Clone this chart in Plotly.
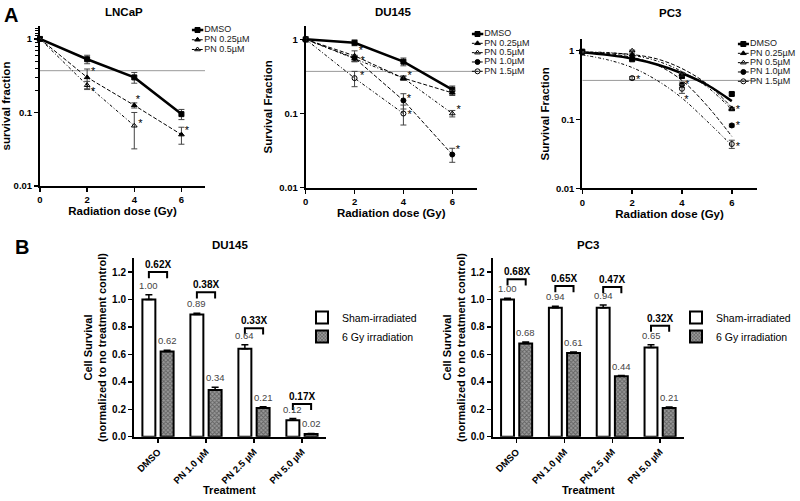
import plotly.graph_objects as go

FONT = "Liberation Sans, Arial, Helvetica, sans-serif"
W, H = 800, 501

# ------------------------------------------------------------------ data
dose = [0, 2, 4, 6]
d0_level = 0.37                      # 37 % survival reference line

# --- LNCaP clonogenic survival
lncap_names = ["DMSO", "PN 0.25µM", "PN 0.5µM"]
lncap_dmso = [1.0, 0.53, 0.30, 0.095]
lncap_dmso_err = [0.0, 0.07, 0.05, 0.015]
lncap_pn025 = [1.0, 0.30, 0.125, 0.05]
lncap_pn025_err = [0.0, 0.09, 0.01, 0.013]
lncap_pn05 = [1.0, 0.235, 0.066]
lncap_pn05_err = [0.0, 0.03, 0.034]
lncap_star_x = [2.25, 2.25, 4.15, 4.26, 6.23]
lncap_star_y = [0.35, 0.19, 0.148, 0.07, 0.055]

# --- DU145 clonogenic survival
du_names = ["DMSO", "PN 0.25µM", "PN 0.5µM", "PN 1.0µM", "PN 1.5µM"]
du_dmso = [1.0, 0.90, 0.50, 0.21]
du_dmso_err = [0.08, 0.08, 0.06, 0.025]
du_pn025 = [1.0, 0.60, 0.30, 0.19]
du_pn025_err = [0.05, 0.10, 0.02, 0.015]
du_pn05 = [1.0, 0.55, 0.30, 0.10]
du_pn05_err = [0.05, 0.05, 0.02, 0.01]
du_pn10 = [1.0, 0.56, 0.15, 0.028]
du_pn10_err = [0.05, 0.05, 0.035, 0.006]
du_pn15 = [1.0, 0.30, 0.10]
du_pn15_err = [0.05, 0.07, 0.03]
du_star_x = [2.26, 2.33, 2.31, 4.26, 4.22, 4.26, 6.26, 6.23]
du_star_y = [0.70, 0.50, 0.32, 0.32, 0.155, 0.095, 0.11, 0.032]

# --- PC3 clonogenic survival (points + fitted curves)
pc_names = ["DMSO", "PN 0.25µM", "PN 0.5µM", "PN 1.0µM", "PN 1.5µM"]
pc_dmso = [0.97, 0.75, 0.43, 0.235]
pc_dmso_err = [0.02, 0.03, 0.03, 0.01]
pc_pn025 = [0.95, 0.88, 0.46, 0.145]
pc_pn025_err = [0.02, 0.02, 0.02, 0.005]
pc_pn05 = [0.96, 1.0, 0.45, 0.14]
pc_pn05_err = [0.02, 0.02, 0.02, 0.005]
pc_pn10 = [0.95, 0.78, 0.32, 0.082]
pc_pn10_err = [0.02, 0.02, 0.03, 0.004]
pc_pn15 = [0.95, 0.40, 0.28, 0.044]
pc_pn15_err = [0.02, 0.02, 0.04, 0.006]
fit_dose = [0, 1, 2, 3, 4, 5, 6]
pc_fit_dmso = [0.95, 0.87, 0.77, 0.63, 0.47, 0.32, 0.185]
pc_fit_pn025 = [0.93, 0.93, 0.88, 0.76, 0.55, 0.33, 0.15]
pc_fit_pn05 = [0.96, 0.94, 0.86, 0.71, 0.50, 0.30, 0.14]
pc_fit_pn10 = [0.95, 0.91, 0.80, 0.62, 0.37, 0.16, 0.057]
pc_fit_pn15 = [0.87, 0.74, 0.57, 0.37, 0.205, 0.095, 0.042]
pc_star_x = [2.24, 4.21, 4.18, 6.25, 6.25, 6.25]
pc_star_y = [0.375, 0.317, 0.19, 0.137, 0.079, 0.04]

# --- Panel B: cell survival bars
treatments = ["DMSO", "PN 1.0 µM", "PN 2.5 µM", "PN 5.0 µM"]
bar_names = ["Sham-irradiated", "6 Gy irradiation"]
du_sham = [1.00, 0.89, 0.64, 0.12]
du_sham_err = [0.035, 0.01, 0.03, 0.012]
du_irr = [0.62, 0.34, 0.21, 0.02]
du_irr_err = [0.01, 0.02, 0.008, 0.004]
du_fold = ["0.62X", "0.38X", "0.33X", "0.17X"]
du_fold_y = [1.20, 1.052, 0.79, 0.239]
pc_sham = [1.00, 0.94, 0.94, 0.65]
pc_sham_err = [0.008, 0.01, 0.02, 0.02]
pc_irr = [0.68, 0.61, 0.44, 0.21]
pc_irr_err = [0.01, 0.008, 0.006, 0.006]
pc_fold = ["0.68X", "0.65X", "0.47X", "0.32X"]
pc_fold_y = [1.147, 1.098, 1.09, 0.809]

# ------------------------------------------------------------------ styles
STYLE = {
    "DMSO":      dict(symbol="square", dash="solid", width=2.5, size=5),
    "PN 0.25µM": dict(symbol="triangle-up", dash="4px,2px", width=1, size=5),
    "PN 0.5µM":  dict(symbol="triangle-up-open", dash="3px,2px,1px,2px", width=1, size=5),
    "PN 1.0µM":  dict(symbol="circle", dash="4px,2px", width=1, size=5),
    "PN 1.5µM":  dict(symbol="circle-open", dash="3px,2px,1px,2px", width=1, size=5),
}


def fx(p):
    return p / W


def fy(p):
    return 1 - p / H


fig = go.Figure()


def add_series(x, y, err, name, xa, ya, mode="lines+markers"):
    st = STYLE[name]
    fig.add_trace(go.Scatter(
        x=x[:len(y)], y=y, mode=mode, name=name, showlegend=False,
        xaxis=xa, yaxis=ya, cliponaxis=False,
        line=dict(color="black", width=st["width"], dash=st["dash"]),
        marker=dict(symbol=st["symbol"], size=st["size"], color="black",
                    line=dict(color="black", width=1)),
        error_y=dict(type="data", array=err, color="#444", thickness=1, width=3)))


def add_fit(x, y, name, xa, ya):
    st = STYLE[name]
    fig.add_trace(go.Scatter(
        x=x, y=y, mode="lines", showlegend=False, xaxis=xa, yaxis=ya,
        line=dict(color="black", width=st["width"], dash=st["dash"], shape="spline")))


def add_refline(xa, ya):
    fig.add_trace(go.Scatter(
        x=[0, 7], y=[d0_level, d0_level], mode="lines", showlegend=False,
        xaxis=xa, yaxis=ya, line=dict(color="#999", width=1)))


def add_stars(x, y, xa, ya):
    fig.add_trace(go.Scatter(
        x=x, y=y, mode="text", text=["*"] * len(x), showlegend=False,
        xaxis=xa, yaxis=ya, cliponaxis=False,
        textfont=dict(family=FONT, size=11, color="black")))


KEY_SPAN = 70      # px width of each key sub-area (glyph + label)


def add_key(names, xa, ya, glyph_px):
    tx = 1 + 1.0 / glyph_px
    for i, name in enumerate(names):
        st = STYLE[name]
        fig.add_trace(go.Scatter(
            x=[0, 1], y=[i, i], mode="lines", showlegend=False, xaxis=xa, yaxis=ya,
            line=dict(color="black", width=st["width"] if st["dash"] == "solid" else 1,
                      dash="solid" if st["dash"] == "solid" else "3px,1px")))
        fig.add_trace(go.Scatter(
            x=[0.5], y=[i], mode="markers", showlegend=False, xaxis=xa, yaxis=ya,
            cliponaxis=False,
            marker=dict(symbol=st["symbol"], size=st["size"], color="black",
                        line=dict(color="black", width=1))))
        fig.add_trace(go.Scatter(
            x=[tx], y=[i], mode="text", text=[name], textposition="middle right",
            showlegend=False, xaxis=xa, yaxis=ya, cliponaxis=False,
            textfont=dict(family=FONT, size=9, color="#222")))


# ---- LNCaP (x, y)
add_refline("x", "y")
for name, yv, ev in zip(lncap_names, [lncap_dmso, lncap_pn025, lncap_pn05],
                        [lncap_dmso_err, lncap_pn025_err, lncap_pn05_err]):
    add_series(dose, yv, ev, name, "x", "y")
add_stars(lncap_star_x, lncap_star_y, "x", "y")

# ---- DU145 (x2, y2)
add_refline("x2", "y2")
for name, yv, ev in zip(du_names, [du_dmso, du_pn025, du_pn05, du_pn10, du_pn15],
                        [du_dmso_err, du_pn025_err, du_pn05_err, du_pn10_err, du_pn15_err]):
    add_series(dose, yv, ev, name, "x2", "y2")
add_stars(du_star_x, du_star_y, "x2", "y2")

# ---- PC3 (x3, y3)
add_refline("x3", "y3")
for name, yf in zip(pc_names, [pc_fit_dmso, pc_fit_pn025, pc_fit_pn05, pc_fit_pn10, pc_fit_pn15]):
    add_fit(fit_dose, yf, name, "x3", "y3")
for name, yv, ev in zip(pc_names, [pc_dmso, pc_pn025, pc_pn05, pc_pn10, pc_pn15],
                        [pc_dmso_err, pc_pn025_err, pc_pn05_err, pc_pn10_err, pc_pn15_err]):
    add_series(dose, yv, ev, name, "x3", "y3", mode="markers")
add_stars(pc_star_x, pc_star_y, "x3", "y3")

# ---- keys for the survival panels (glyph x-span px, first / last row px)
KEYS = [
    (lncap_names, "x6", "y6", 191.7, 203.3, 30.0, 49.5),
    (du_names, "x7", "y7", 471.7, 483.3, 34.0, 71.3),
    (pc_names, "x8", "y8", 737.7, 749.0, 44.0, 81.3),
]
for names, xa, ya, gx0, gx1, r0, r1 in KEYS:
    add_key(names, xa, ya, gx1 - gx0)

# ---- Panel B bars
BARGAP, GROUPGAP = 0.24, 0.29
half = (1 - BARGAP) / 4
idx = list(range(len(treatments)))
annotations = []


def add_bars(sham, sham_err, irr, irr_err, folds, fold_y, xa, ya, legend):
    fig.add_trace(go.Bar(
        x=idx, y=sham, name=bar_names[0], xaxis=xa, yaxis=ya, legend=legend,
        marker=dict(color="white", line=dict(color="black", width=2)),
        error_y=dict(type="data", array=sham_err, arrayminus=[0] * len(sham),
                     color="black", thickness=1.5, width=3.5)))
    fig.add_trace(go.Bar(
        x=idx, y=irr, name=bar_names[1], xaxis=xa, yaxis=ya, legend=legend,
        marker=dict(color="#777777", line=dict(color="black", width=2),
                    pattern=dict(shape="x", size=3, solidity=0.5,
                                 fgcolor="#2a2a2a", bgcolor="#9a9a9a")),
        error_y=dict(type="data", array=irr_err, arrayminus=[0] * len(irr),
                     color="black", thickness=1.5, width=3.5)))
    bx, by = [], []
    for i, top in zip(idx, fold_y):
        bx += [i - half, i - half, i + half, i + half, None]
        by += [top - 0.045, top, top, top - 0.045, None]
    fig.add_trace(go.Scatter(x=bx, y=by, mode="lines", showlegend=False,
                             xaxis=xa, yaxis=ya, cliponaxis=False,
                             line=dict(color="black", width=2)))
    for i in idx:
        annotations.append(dict(x=i, y=fold_y[i], xref=xa, yref=ya, yanchor="bottom",
                                xanchor="center", yshift=0, showarrow=False,
                                text=f"<b>{folds[i]}</b>",
                                font=dict(family=FONT, size=10, color="black")))
        for v, e, sgn in ((sham[i], sham_err[i], -1), (irr[i], irr_err[i], 1)):
            annotations.append(dict(x=i + sgn * half, y=v + e, xref=xa, yref=ya,
                                    yanchor="bottom", xanchor="center", yshift=2,
                                    showarrow=False, text=f"{v:.2f}",
                                    font=dict(family=FONT, size=9.5, color="#444")))


add_bars(du_sham, du_sham_err, du_irr, du_irr_err, du_fold, du_fold_y, "x4", "y4", "legend")
add_bars(pc_sham, pc_sham_err, pc_irr, pc_irr_err, pc_fold, pc_fold_y, "x5", "y5", "legend2")

# ------------------------------------------------------------------ layout
tickfont = dict(family=FONT, size=9.5, color="black", weight="bold")
titlefont = dict(family=FONT, size=11.5, color="black", weight="bold")
common = dict(showline=True, linecolor="black", linewidth=2, ticks="outside",
              ticklen=4, tickwidth=1.5, tickcolor="black", showgrid=False,
              zeroline=False, tickfont=tickfont, automargin=False, fixedrange=True)


def top_x(x0, x1, anchor):
    return dict(domain=[fx(x0), fx(x1)], range=[0, 7], tickvals=dose, anchor=anchor,
                title=dict(text="Radiation dose (Gy)", font=titlefont, standoff=0), **common)


def top_y(y0, y1, top, title, anchor, minor=None):
    d = dict(domain=[fy(y1), fy(y0)], type="log", range=[-2, top], anchor=anchor,
             tickvals=[0.01, 0.1, 1], ticktext=["0.01", "0.1", "1"],
             title=dict(text=title, font=titlefont, standoff=4), **common)
    if minor:
        d["minor"] = minor
    return d


def bar_x(x0, x1, anchor):
    return dict(domain=[fx(x0), fx(x1)], range=[-0.5, len(treatments) - 0.5],
                tickvals=idx, ticktext=treatments, tickangle=-45, anchor=anchor,
                **{**common, "tickfont": dict(family=FONT, size=9.5, color="black", weight="bold")})


def bar_y(anchor):
    return dict(domain=[fy(436.7), fy(258.3)], range=[0, 1.30], dtick=0.2, tickformat=".1f",
                anchor=anchor,
                title=dict(text="Cell Survival<br>(normalized to no treatment control)",
                           font=dict(family=FONT, size=11, color="black", weight="bold"),
                           standoff=3),
                **{**common, "tickfont": dict(family=FONT, size=10, color="black", weight="bold")})


def key_axes(gx0, gx1, row0, row_last, n, anchor_x, anchor_y):
    sp = (row_last - row0) / (n - 1)
    gw = gx1 - gx0
    span = min(KEY_SPAN, W - gx0)
    xa = dict(domain=[fx(gx0), fx(gx0 + span)], range=[0, span / gw],
              visible=False, fixedrange=True, anchor=anchor_y)
    ya = dict(domain=[fy(row_last + sp / 2), fy(row0 - sp / 2)],
              range=[n - 0.5, -0.5], visible=False, fixedrange=True, anchor=anchor_x)
    return xa, ya


key_layout = {}
for names, xa, ya, gx0, gx1, r0, r1 in KEYS:
    kx, ky = key_axes(gx0, gx1, r0, r1, len(names), xa, ya)
    key_layout["xaxis" + xa[1:]] = kx
    key_layout["yaxis" + ya[1:]] = ky

lncap_minor = dict(tickvals=[0.2, 0.3, 0.4, 0.5, 0.6, 0.7, 0.8, 0.9, 1.1, 1.2, 1.3, 1.4],
                   ticks="outside", ticklen=3, tickwidth=1, tickcolor="black")


def label(text, x, y, size, bold=True):
    return dict(text=text, x=fx(x), y=fy(y), xref="paper", yref="paper",
                xanchor="center", yanchor="middle", showarrow=False,
                font=dict(family=FONT, size=size, color="black",
                          weight="bold" if bold else "normal"))


annotations += [
    label("A", 11, 15, 20),
    label("B", 22, 247, 20),
    label("LNCaP", 124, 12, 11.5),
    label("DU145", 393, 12, 11.5),
    label("PC3", 670, 13, 11.5),
    label("DU145", 230, 245, 11.5),
    label("PC3", 588, 245, 11.5),
    label("Treatment", 230, 490, 11),
    label("Treatment", 588, 490, 11),
]

legend_style = dict(font=dict(family=FONT, size=10.5, color="black"), bgcolor="rgba(0,0,0,0)",
                    borderwidth=0, xanchor="left", yanchor="top", itemwidth=30,
                    tracegroupgap=0)

fig.update_layout(
    width=W, height=H, margin=dict(l=0, r=0, t=0, b=0),
    paper_bgcolor="white", plot_bgcolor="rgba(0,0,0,0)",
    font=dict(family=FONT, color="black"),
    barmode="group", bargap=BARGAP, bargroupgap=GROUPGAP,
    showlegend=True,
    xaxis=top_x(40, 205, "y"),
    yaxis=top_y(26, 186, 0.176, "survival fraction", "x", lncap_minor),
    xaxis2=top_x(305.7, 476.7, "y2"),
    yaxis2=top_y(26, 187.7, 0.18, "Survival Fraction", "x2"),
    xaxis3=top_x(582.3, 756.7, "y3"),
    yaxis3=top_y(39.3, 188.3, 0.166, "Survival Fraction", "x3"),
    xaxis4=bar_x(134, 326, "y4"),
    yaxis4=bar_y("x4"),
    xaxis5=bar_x(492.7, 684, "y5"),
    yaxis5=bar_y("x5"),
    legend=dict(x=fx(302), y=fy(303), **legend_style),
    legend2=dict(x=fx(676), y=fy(303), **legend_style),
    annotations=annotations,
    **key_layout,
)

fig.write_html("out.html",
               config={"displayModeBar": False, "staticPlot": True},
               post_script="document.body.style.margin='0';document.body.style.overflow='hidden';")
